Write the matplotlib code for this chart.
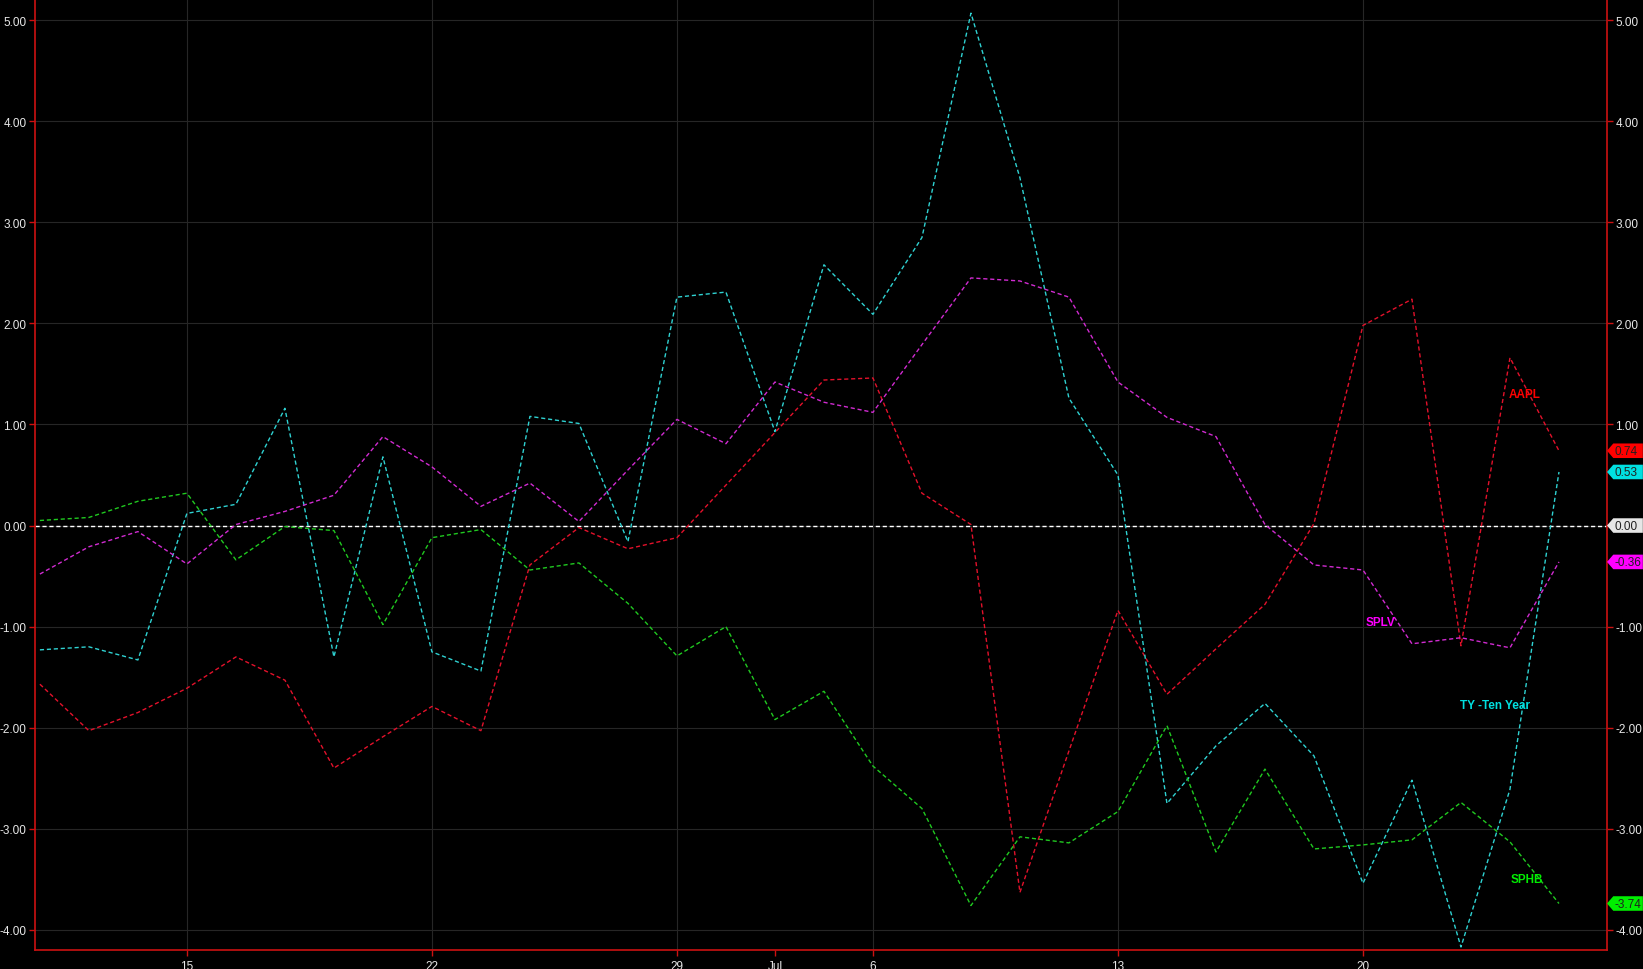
import matplotlib.pyplot as plt
import numpy as np
from matplotlib.patches import Polygon
from matplotlib.transforms import blended_transform_factory

plt.rcParams['font.family'] = ['Liberation Sans', 'DejaVu Sans']

# trading days, 10 Jun - 24 Jul
dates = ['06-10', '06-11', '06-12', '06-15', '06-16', '06-17', '06-18', '06-19',
         '06-22', '06-23', '06-24', '06-25', '06-26', '06-29', '06-30', '07-01',
         '07-02', '07-06', '07-07', '07-08', '07-09', '07-10', '07-13', '07-14',
         '07-15', '07-16', '07-17', '07-20', '07-21', '07-22', '07-23', '07-24']

aapl = [-1.57, -2.03, -1.85, -1.61, -1.30, -1.53, -2.40, -2.09, -1.79, -2.03, -0.39,
        -0.02, -0.23, -0.12, 0.40, 0.92, 1.44, 1.46, 0.32, 0.01, -3.63, -2.23,
        -0.84, -1.67, -1.22, -0.78, 0.02, 1.98, 2.24, -1.19, 1.66, 0.74]
ty = [-1.23, -1.20, -1.33, 0.12, 0.21, 1.16, -1.30, 0.68, -1.25, -1.44, 1.08,
      1.01, -0.16, 2.26, 2.31, 0.93, 2.58, 2.09, 2.85, 5.07, 3.44, 1.26,
      0.50, -2.75, -2.18, -1.76, -2.28, -3.54, -2.52, -4.17, -2.61, 0.53]
splv = [-0.48, -0.21, -0.06, -0.38, 0.01, 0.14, 0.30, 0.88, 0.58, 0.19, 0.42,
        0.04, 0.55, 1.05, 0.81, 1.42, 1.22, 1.12, 1.79, 2.45, 2.42, 2.26,
        1.42, 1.07, 0.88, 0.01, -0.39, -0.44, -1.17, -1.11, -1.21, -0.36]
sphb = [0.05, 0.08, 0.24, 0.32, -0.34, -0.01, -0.05, -0.98, -0.12, -0.04, -0.44,
        -0.37, -0.77, -1.29, -1.00, -1.92, -1.64, -2.38, -2.80, -3.76, -3.08, -3.14,
        -2.83, -1.98, -3.23, -2.41, -3.20, -3.16, -3.11, -2.74, -3.13, -3.74]

tick_labels = ['15', '22', '29', 'Jul', '6', '13', '20']
tick_dates = ['06-15', '06-22', '06-29', '07-01', '07-06', '07-13', '07-20']

names = ['AAPL', 'TY -Ten Year', 'SPLV', 'SPHB']
colors = ['#e3112b', '#2fd2d2', '#d12bd1', '#20c920']
tag_colors = ['#ff0000', '#00e0e0', '#ff00ff', '#00ee00']
label_pos = [(30.3, 1.3), (29.7, -1.78), (27.35, -0.95), (30.35, -3.5)]

x = np.arange(len(dates))
tick_pos = [dates.index(d) for d in tick_dates]

fig = plt.figure(figsize=(16.43, 9.70), dpi=100, facecolor='black')
ax = fig.add_axes([35 / 1643, 19 / 970, 1572 / 1643, 951 / 970])
ax.set_facecolor('black')

# grid
for v in range(-4, 6):
    ax.axhline(v, color='#262626', lw=0.8, zorder=0)
for p, lab in zip(tick_pos, tick_labels):
    if lab != 'Jul':
        ax.axvline(p, color='#262626', lw=0.8, zorder=0)

ax.axhline(0, color='white', lw=1, ls=(0, (3, 2)), zorder=1)

series = [aapl, ty, splv, sphb]
for s, c in zip(series, colors):
    ax.plot(x, s, color=c, lw=1, ls=(0, (3, 2)), zorder=2)

for n, c, (lx, ly) in zip(names, tag_colors, label_pos):
    ax.text(lx, ly, n, color=c, fontsize=8.5, fontweight='bold', ha='center', va='center')

ax.set_xlim(-0.1, 31.98)
ax.set_ylim(-4.2, 5.21)

ax.set_xticks(tick_pos)
ax.set_xticklabels(tick_labels)
ax.set_yticks(range(-4, 6))
ax.set_yticklabels(['%.2f' % v for v in range(-4, 6)])
ax.tick_params(axis='both', colors='#cc1111', labelcolor='#e8e8e8', labelsize=8.5,
               length=4, width=1)
ax.tick_params(axis='y', right=True, labelright=True, pad=2)
ax.tick_params(axis='x', pad=3)

for side in ['left', 'right', 'bottom']:
    ax.spines[side].set_color('#cc1111')
    ax.spines[side].set_linewidth(1.2)
ax.spines['top'].set_visible(False)

# value tags on the right axis
trans = blended_transform_factory(ax.transAxes, ax.transData)
tags = [(aapl[-1], '#ff0000'), (ty[-1], '#00e0e0'), (0.0, '#e6e6e6'),
        (splv[-1], '#ff00ff'), (sphb[-1], '#00ee00')]
h = 0.072
for v, c in tags:
    poly = Polygon([(1.0, v), (1.004, v + h), (1.0228, v + h), (1.0228, v - h), (1.004, v - h)],
                   closed=True, facecolor=c, edgecolor='none', transform=trans,
                   clip_on=False, zorder=5)
    ax.add_patch(poly)
    ax.text(1.0045, v, '%.2f' % v, transform=trans, color='#202020', fontsize=8.5,
            ha='left', va='center', zorder=6, clip_on=False)

fig.savefig('out.png', dpi=100, facecolor='black')
